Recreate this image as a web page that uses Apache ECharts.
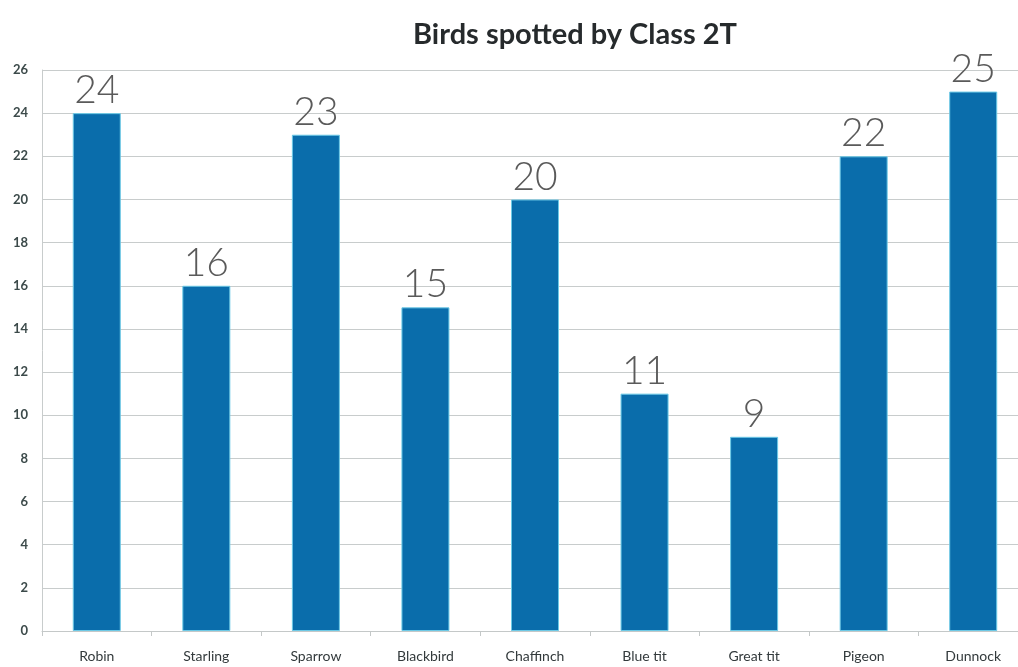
<!DOCTYPE html>
<html>
<head>
<meta charset="utf-8">
<script src="https://cdn.jsdelivr.net/npm/echarts@6/dist/echarts.min.js"></script>
<style>
  html, body { margin: 0; padding: 0; background: #ffffff; overflow: hidden; width: 1018px; height: 667px; }
  #chart { width: 1028px; height: 667px; }
</style>
</head>
<body>
<div id="chart"></div>
<script>
// Birds counted by the class, one bar per species
const birds = ['Robin', 'Starling', 'Sparrow', 'Blackbird', 'Chaffinch', 'Blue tit', 'Great tit', 'Pigeon', 'Dunnock'];
const counts = [24, 16, 23, 15, 20, 11, 9, 22, 25];
const yTicks = [0, 2, 4, 6, 8, 10, 12, 14, 16, 18, 20, 22, 24, 26];

const chart = echarts.init(document.getElementById('chart'), null, { renderer: 'canvas' });

chart.setOption({
  backgroundColor: '#ffffff',
  animation: false,
  title: {
    text: 'Birds spotted by Class 2T',
    left: 570,
    textAlign: 'center',
    top: 15,
    textStyle: {
      fontFamily: 'Lato, "Open Sans", sans-serif',
      fontWeight: 'bold',
      fontSize: 29,
      color: '#262a2c'
    }
  },
  grid: {
    left: 42,
    top: 70,
    right: 0,
    bottom: 36,
    containLabel: false
  },
  xAxis: {
    type: 'category',
    data: birds,
    axisLine: { lineStyle: { color: '#c4c8c8', width: 1 } },
    axisTick: { show: true, length: 5, lineStyle: { color: '#c4c8c8' } },
    axisLabel: {
      margin: 18,
      fontFamily: 'Lato, "Open Sans", sans-serif',
      fontSize: 14,
      color: '#333a3c'
    }
  },
  yAxis: {
    type: 'value',
    min: yTicks[0],
    max: yTicks[yTicks.length - 1],
    interval: yTicks[1] - yTicks[0],
    axisLine: { show: true, lineStyle: { color: '#c8cccc', width: 1 } },
    axisTick: { show: false },
    axisLabel: {
      margin: 14,
      fontFamily: 'Lato, "Open Sans", sans-serif',
      fontWeight: 'bold',
      fontSize: 13,
      color: '#3c4a4a'
    },
    splitLine: { lineStyle: { color: '#c8cccc', width: 1 } }
  },
  series: [{
    type: 'bar',
    data: counts,
    barWidth: 48,
    itemStyle: {
      color: '#0a6dab',
      borderColor: '#6cc9e6',
      borderWidth: 1
    },
    label: {
      show: true,
      position: 'top',
      distance: 3,
      fontFamily: 'Lato, "DejaVu Sans", sans-serif',
      fontWeight: 300,
      fontSize: 39,
      color: '#5a5a5a'
    }
  }]
});
</script>
</body>
</html>
